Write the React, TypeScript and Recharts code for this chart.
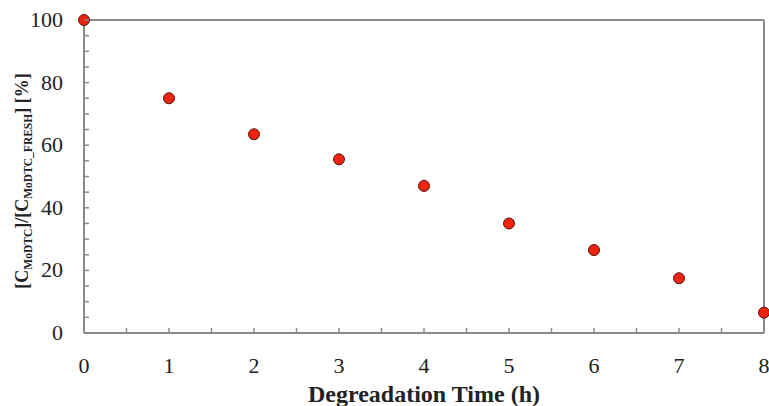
import { ScatterChart, Scatter, XAxis, YAxis, ReferenceLine } from 'recharts';

// degradation time (h) and remaining MoDTC (%)
const hours = [0, 1, 2, 3, 4, 5, 6, 7, 8];
const remaining = [100, 75, 63.5, 55.5, 47, 35, 26.5, 17.5, 6.5];
const xTicks = [0, 0.5, 1, 1.5, 2, 2.5, 3, 3.5, 4, 4.5, 5, 5.5, 6, 6.5, 7, 7.5, 8];
const yTicks = [0, 5, 10, 15, 20, 25, 30, 35, 40, 45, 50, 55, 60, 65, 70, 75, 80, 85, 90, 95, 100];

const data = hours.map((h, i) => ({ h, v: remaining[i] }));

const W = 769;
const H = 406;
const PLOT_LEFT = 84;
const PLOT_BOTTOM = 333;
const AXIS = '#8a8a8a';
const FONT = '"Liberation Serif", "DejaVu Serif", serif';

const XTick = (props: any) => {
  const { x, payload } = props;
  const major = Number.isInteger(payload.value);
  return (
    <g>
      <line x1={x} x2={x} y1={PLOT_BOTTOM} y2={PLOT_BOTTOM - 5} stroke={AXIS} strokeWidth={1.5} />
      {major && (
        <text x={x} y={373} textAnchor="middle" fontSize={22} fontFamily={FONT} fill="#222">
          {payload.value}
        </text>
      )}
    </g>
  );
};

const YTick = (props: any) => {
  const { y, payload } = props;
  const major = payload.value % 20 === 0;
  return (
    <g>
      <line x1={PLOT_LEFT} x2={PLOT_LEFT + 5} y1={y} y2={y} stroke={AXIS} strokeWidth={1.5} />
      {major && (
        <text x={PLOT_LEFT - 21} y={y + 7} textAnchor="end" fontSize={22} fontFamily={FONT} fill="#222">
          {payload.value}
        </text>
      )}
    </g>
  );
};

const Dot = (props: any) => {
  const { cx, cy } = props;
  return <circle cx={cx} cy={cy} r={5.5} fill="#ec2410" stroke="#5a1208" strokeWidth={1} />;
};

const YTitle = () => (
  <text
    transform="translate(28,181) rotate(-90)"
    textAnchor="middle"
    fontFamily={FONT}
    fontWeight="bold"
    fontSize={18}
    fill="#222"
  >
    <tspan>[C</tspan>
    <tspan fontSize={11.5} dy={4}>MoDTC</tspan>
    <tspan dy={-4}>]/[C</tspan>
    <tspan fontSize={11.5} dy={4}>MoDTC_FRESH</tspan>
    <tspan dy={-4}>] [%]</tspan>
  </text>
);

const XTitle = () => (
  <text x={424} y={402} textAnchor="middle" fontFamily={FONT} fontWeight="bold" fontSize={24} fill="#222">
    Degreadation Time (h)
  </text>
);

export default function App() {
  return (
    <div style={{ position: 'absolute', left: 0, top: 0, width: W, height: H, background: '#fff' }}>
      <ScatterChart width={W} height={H} margin={{ top: 20, right: 5, left: 0, bottom: 0 }}>
        <XAxis
          type="number"
          dataKey="h"
          domain={[0, 8]}
          ticks={xTicks}
          interval={0}
          tick={<XTick />}
          tickLine={false}
          axisLine={{ stroke: AXIS, strokeWidth: 2 }}
          height={73}
          label={<XTitle />}
        />
        <YAxis
          type="number"
          dataKey="v"
          domain={[0, 100]}
          ticks={yTicks}
          interval={0}
          tick={<YTick />}
          tickLine={false}
          axisLine={{ stroke: AXIS, strokeWidth: 2 }}
          width={84}
          label={<YTitle />}
        />
        <ReferenceLine y={100} stroke={AXIS} strokeWidth={2} />
        <ReferenceLine x={8} stroke={AXIS} strokeWidth={2} />
        <Scatter data={data} shape={<Dot />} isAnimationActive={false} />
      </ScatterChart>
    </div>
  );
}
